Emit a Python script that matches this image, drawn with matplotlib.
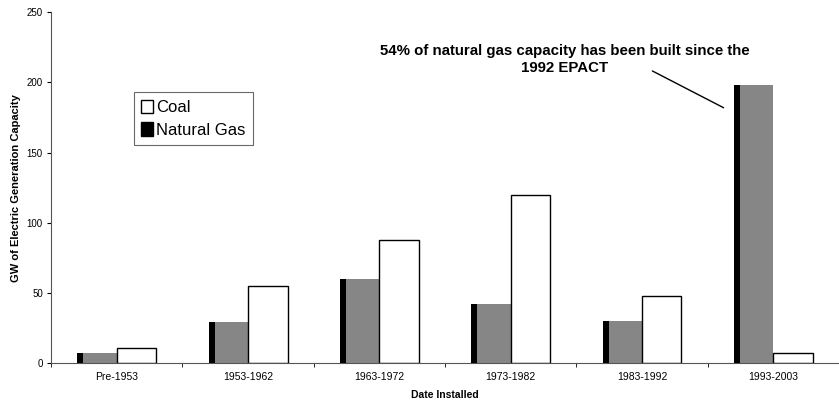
import numpy as np
import matplotlib.pyplot as plt
from matplotlib.patches import Patch

plt.rcParams['font.family'] = ['Liberation Sans', 'DejaVu Sans']

# Capacity by installation period (GW)
periods = ['Pre-1953', '1953-1962', '1963-1972', '1973-1982', '1983-1992', '1993-2003']
gas = [7, 29, 60, 42, 30, 198]
coal = [11, 55, 88, 120, 48, 7]

x = np.arange(len(periods))
w = 0.3
stripe = 0.045

fig = plt.figure(figsize=(8.39, 4.04), dpi=100)
ax = fig.add_axes([0.061, 0.101, 0.939, 0.869])

# gas bars: grey body with dark left face
ax.bar(x - w / 2, gas, width=w, color='#868686', edgecolor='none', zorder=2)
ax.bar(x - w + stripe / 2, gas, width=stripe, color='black', edgecolor='none', zorder=3)
ax.bar(x + w / 2, coal, width=w, color='white', edgecolor='black', linewidth=1.0, zorder=2)

ax.set_xlim(-0.5, len(periods) - 0.5)
ax.set_ylim(0, 250)
ax.set_yticks([0, 50, 100, 150, 200, 250])
ax.set_xticks(x)
ax.set_xticklabels(periods)
ax.set_xticks(np.arange(len(periods) + 1) - 0.5, minor=True)
ax.tick_params(axis='x', which='major', length=0, labelsize=7.5, pad=6)
ax.tick_params(axis='x', which='minor', length=3, direction='out')
ax.tick_params(axis='y', length=3, labelsize=7, pad=3)

for side in ['top', 'right']:
    ax.spines[side].set_visible(False)
ax.spines['left'].set_color('#555555')
ax.spines['bottom'].set_color('#555555')
ax.spines['left'].set_linewidth(0.8)
ax.spines['bottom'].set_linewidth(0.8)

ax.set_ylabel('GW of Electric Generation Capacity', fontsize=8, fontweight='bold', labelpad=4)
ax.set_xlabel('Date Installed', fontsize=7.5, fontweight='bold', labelpad=6)

handles = [Patch(facecolor='white', edgecolor='black', label='Coal'),
           Patch(facecolor='black', edgecolor='black', label='Natural Gas')]
leg = ax.legend(handles=handles, loc='upper left', bbox_to_anchor=(0.105, 0.772),
                fontsize=12, frameon=True, fancybox=False, handlelength=0.7,
                handleheight=0.9, handletextpad=0.2, borderpad=0.45, labelspacing=0.4,
                borderaxespad=0)
leg.get_frame().set_edgecolor('#444444')
leg.get_frame().set_linewidth(0.8)

ax.annotate('', xy=(4.64, 181), xytext=(4.06, 209),
            arrowprops=dict(arrowstyle='-', color='black', lw=1.0))
ax.text(3.41, 216, '54% of natural gas capacity has been built since the\n1992 EPACT',
        ha='center', va='center', fontsize=10.8, fontweight='bold', linespacing=1.25)

fig.savefig('out.png', dpi=100)
